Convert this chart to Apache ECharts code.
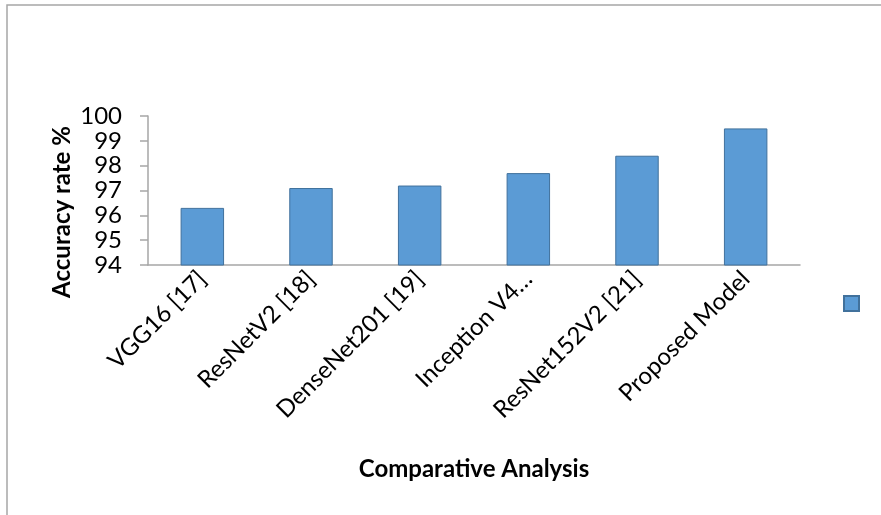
<!DOCTYPE html>
<html>
<head>
<meta charset="utf-8">
<script src="https://cdn.jsdelivr.net/npm/echarts@6/dist/echarts.min.js"></script>
<style>
  html, body { margin: 0; padding: 0; background: #fff; }
  #chart { width: 881px; height: 515px; }
</style>
</head>
<body>
<div id="chart"></div>
<script>
// Model names along the category axis
const models = ['VGG16 [17]', 'ResNetV2 [18]', 'DenseNet201 [19]', 'Inception V4…', 'ResNet152V2 [21]', 'Proposed Model'];
// Accuracy (%) for each model
const accuracy = [96.3, 97.1, 97.2, 97.7, 98.4, 99.5];
// Value axis range and step
const yMin = 94;
const yMax = 100;
const yStep = 1;

const FONT = 'Lato, "Open Sans", sans-serif';

const chart = echarts.init(document.getElementById('chart'));
chart.setOption({
  backgroundColor: '#ffffff',
  animation: false,
  graphic: [
    {
      type: 'rect',
      shape: { x: 7, y: 5, width: 900, height: 540 },
      style: { fill: 'none', stroke: '#a6a6a6', lineWidth: 1.5 },
      silent: true
    },
    {
      type: 'text',
      x: 62, y: 212,
      rotation: Math.PI / 2,
      style: {
        text: 'Accuracy rate %',
        font: 'bold 24px ' + FONT,
        fill: '#000',
        align: 'center',
        verticalAlign: 'middle'
      }
    }
  ],
  legend: {
    show: true,
    left: 843,
    top: 295,
    padding: 0,
    itemWidth: 15,
    itemHeight: 15,
    itemGap: 0,
    icon: 'rect',
    formatter: function () { return ''; },
    textStyle: { fontSize: 1 },
    selectedMode: false
  },
  grid: { left: 148, right: 81, top: 116, bottom: 250, containLabel: false },
  xAxis: {
    type: 'category',
    data: models,
    name: 'Comparative Analysis',
    nameLocation: 'middle',
    nameGap: 192,
    nameTextStyle: { fontFamily: FONT, fontWeight: 'bold', fontSize: 24, color: '#000' },
    axisLine: { show: true, lineStyle: { color: '#a6a6a6', width: 1.5 } },
    axisTick: { show: false },
    axisLabel: {
      rotate: 45,
      interval: 0,
      margin: 10,
      fontFamily: FONT,
      fontSize: 24,
      color: '#000'
    }
  },
  yAxis: {
    type: 'value',
    min: yMin,
    max: yMax,
    interval: yStep,
    axisLine: { show: true, lineStyle: { color: '#a6a6a6', width: 1.5 } },
    axisTick: { show: true, length: 8, lineStyle: { color: '#a6a6a6', width: 1.5 } },
    splitLine: { show: false },
    axisLabel: {
      margin: 26,
      fontFamily: FONT,
      fontSize: 24,
      color: '#000'
    }
  },
  series: [
    {
      name: 'Accuracy',
      type: 'bar',
      data: accuracy,
      barWidth: '40%',
      itemStyle: { color: '#5b9bd5', borderColor: '#41719c', borderWidth: 1 }
    }
  ]
});
</script>
</body>
</html>
